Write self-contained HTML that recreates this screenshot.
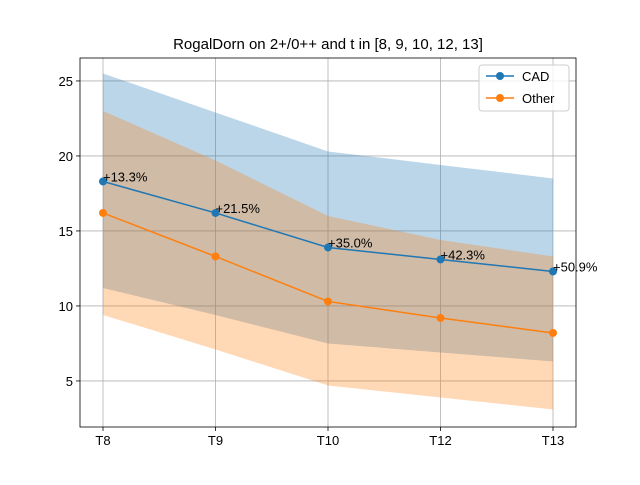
<!DOCTYPE html>
<html><head><meta charset="utf-8"><style>body{margin:0;background:#fff}svg{font-family:"Liberation Sans","DejaVu Sans",sans-serif}</style></head>
<body>
<svg id="chart" width="640" height="480"></svg>
<script>
const categories=["T8","T9","T10","T12","T13"];
const cadValues=[18.3,16.2,13.9,13.1,12.3];
const cadUpper=[25.5,22.9,20.3,19.4,18.5];
const cadLower=[11.2,9.4,7.5,6.9,6.3];
const otherValues=[16.2,13.3,10.3,9.2,8.2];
const otherUpper=[23.0,19.7,16.0,14.4,13.3];
const otherLower=[9.4,7.1,4.7,3.9,3.1];
const labels=["+13.3%","+21.5%","+35.0%","+42.3%","+50.9%"];
const yTicks=[5,10,15,20,25];
const L=80,R=576,T=58,B=427;
const xMin=-0.2044,xMax=4.2044,yMin=1.93,yMax=26.53;
const X=i=>L+(i-xMin)/(xMax-xMin)*(R-L);
const Y=v=>B-(v-yMin)/(yMax-yMin)*(B-T);
const svg=document.getElementById('chart');
const NS='http://www.w3.org/2000/svg';
function mk(tag,attrs,parent){const e=document.createElementNS(NS,tag);for(const k in attrs)e.setAttribute(k,attrs[k]);(parent||svg).appendChild(e);return e;}
// grid
categories.forEach((c,i)=>{const g=mk('line',{x1:X(i),x2:X(i),y1:T,y2:B,stroke:'#b0b0b0','stroke-width':0.8});
});
yTicks.forEach(v=>{const g=mk('line',{x1:L,x2:R,y1:Y(v),y2:Y(v),stroke:'#b0b0b0','stroke-width':0.8});
});
function band(up,lo,color,name){let p=up.map((v,i)=>X(i)+','+Y(v));for(let i=lo.length-1;i>=0;i--)p.push(X(i)+','+Y(lo[i]));
const e=mk('polygon',{points:p.join(' '),fill:color,'fill-opacity':0.3});
}
band(cadUpper,cadLower,'#1f77b4','cad-band');
band(otherUpper,otherLower,'#ff7f0e','other-band');
function series(vals,color,name){const l=mk('polyline',{points:vals.map((v,i)=>X(i)+','+Y(v)).join(' '),fill:'none',stroke:color,'stroke-width':1.5});

vals.forEach((v,i)=>{const c=mk('circle',{cx:X(i),cy:Y(v),r:4,fill:color});
});}
series(otherValues,'#ff7f0e','other');
series(cadValues,'#1f77b4','cad');
labels.forEach((t,i)=>{const e=mk('text',{x:X(i),y:Y(cadValues[i]),'font-size':13,fill:'#000'});e.textContent=t;
});
// axes frame
const fr=mk('rect',{x:L,y:T,width:R-L,height:B-T,fill:'none',stroke:'#000','stroke-width':0.8});

categories.forEach((c,i)=>{mk('line',{x1:X(i),x2:X(i),y1:B,y2:B+4,stroke:'#000','stroke-width':0.8});
const t=mk('text',{x:X(i),y:B+18,'font-size':13,'text-anchor':'middle'});t.textContent=c;
});
yTicks.forEach(v=>{mk('line',{x1:L-4,x2:L,y1:Y(v),y2:Y(v),stroke:'#000','stroke-width':0.8});
const t=mk('text',{x:L-7,y:Y(v)+5,'font-size':13,'text-anchor':'end'});t.textContent=v;
});
const ti=mk('text',{x:(L+R)/2,y:49,'font-size':15,'text-anchor':'middle'});ti.textContent='RogalDorn on 2+/0++ and t in [8, 9, 10, 12, 13]';

// legend
const lg=mk('g',{});
mk('rect',{x:479,y:65,width:90,height:46,rx:3,fill:'#fff','fill-opacity':0.8,stroke:'#ccc'},lg);
[['CAD','#1f77b4'],['Other','#ff7f0e']].forEach(([n,c],k)=>{const y=76+k*22;
mk('line',{x1:486,x2:514,y1:y,y2:y,stroke:c,'stroke-width':1.5},lg);
mk('circle',{cx:500,cy:y,r:4,fill:c},lg);
const t=mk('text',{x:522,y:y+5,'font-size':13},lg);t.textContent=n;
});
</script>
</body></html>
